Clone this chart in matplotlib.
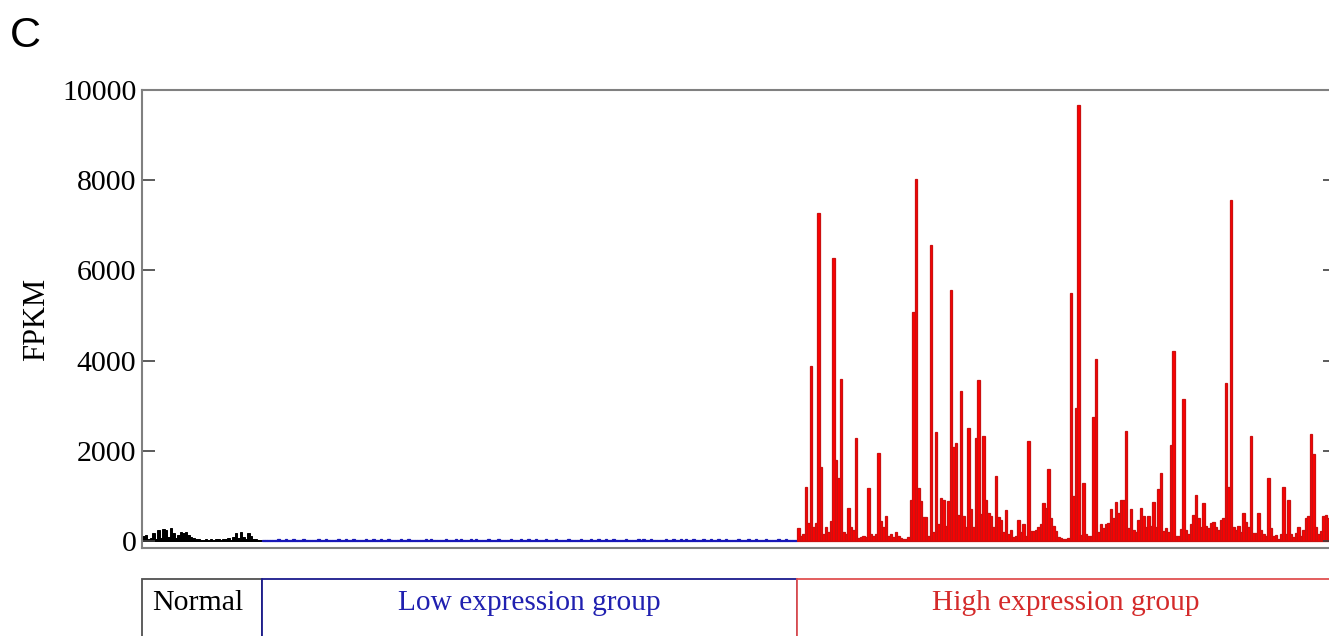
import matplotlib
matplotlib.use("Agg")
import matplotlib.pyplot as plt
from matplotlib.patches import Rectangle
import numpy as np

# FPKM per sample
normal = [120, 130, 40, 60, 170, 40, 250, 60, 260, 240, 80, 280, 170, 60, 130, 190,
          170, 200, 130, 90, 60, 50, 40, 30, 30, 35, 30, 40, 30, 50, 35, 30,
          45, 40, 60, 30, 90, 170, 60, 210, 90, 40, 170, 100, 50, 40, 30, 25]

low = [12, 25, 18, 30, 22, 15, 40, 28, 20, 35, 18, 26, 45, 22, 30, 16, 38, 24, 19, 33,
       27, 14, 36, 21, 29, 48, 17, 25, 31, 20, 42, 23, 15, 34, 26, 19, 39, 22, 28, 16,
       30, 44, 21, 18, 35, 25, 12, 38, 27, 22, 50, 19, 31, 24, 17, 36, 28, 20, 41, 26,
       18, 33, 23, 29, 15, 37, 21, 46, 25, 19, 32, 27, 14, 40, 22, 30, 18, 35, 24, 52,
       20, 28, 16, 34, 26, 43, 19, 31, 23, 17, 38, 25, 29, 21, 47, 18, 33, 27, 15, 36,
       24, 30, 19, 42, 22, 28, 35, 17, 26, 39, 21, 32, 18, 44, 25, 29, 16, 37, 23, 31,
       27, 20, 48, 24, 33, 18, 29, 41, 22, 26, 15, 36, 30, 19, 45, 23, 28, 34, 17, 25,
       38, 21, 30, 26, 14, 43, 24, 32, 19, 27, 50, 22, 35, 18, 29, 40, 25, 20, 33, 28,
       16, 37, 23, 31, 45, 19, 26, 34, 21, 42, 28, 18, 36, 24, 30, 17, 39, 25, 22, 47,
       29, 20, 35, 26, 18, 41, 23, 32, 27, 15, 38, 24, 30, 21, 44, 19, 28, 36, 22, 33,
       26, 40, 18, 31, 24, 20, 37, 29, 16, 34, 22, 27, 19, 30]

high = [290, 100, 150, 1205, 400, 3880, 300, 400, 7265, 1647,
        150, 300, 200, 450, 6282, 1800, 1400, 3585, 200, 150,
        725, 300, 250, 2290, 60, 80, 100, 80, 1180, 150,
        100, 150, 1960, 450, 300, 560, 100, 150, 80, 200,
        120, 60, 50, 50, 80, 909, 5085, 8020, 1170, 880,
        530, 530, 100, 6560, 200, 2420, 370, 950, 900, 340,
        880, 5565, 2090, 2180, 580, 3325, 560, 300, 2510, 700,
        300, 2290, 3570, 600, 2330, 910, 620, 550, 300, 1440,
        530, 470, 200, 680, 150, 250, 80, 100, 460, 200,
        370, 100, 2220, 220, 230, 250, 320, 370, 840, 740,
        1590, 500, 340, 220, 80, 60, 50, 50, 60, 5490,
        1000, 2960, 9665, 130, 1280, 150, 100, 120, 2740, 4030,
        200, 370, 290, 370, 400, 700, 500, 870, 630, 910,
        910, 2440, 290, 700, 250, 200, 470, 740, 550, 300,
        560, 340, 870, 300, 1150, 1500, 220, 290, 200, 2120,
        4210, 100, 120, 270, 3140, 250, 150, 370, 580, 1030,
        510, 300, 840, 340, 290, 400, 420, 300, 250, 470,
        510, 3510, 1200, 7570, 300, 250, 340, 200, 620, 420,
        300, 2330, 170, 170, 630, 250, 150, 120, 1390, 290,
        100, 130, 50, 150, 1190, 150, 900, 150, 80, 170,
        300, 120, 250, 510, 560, 2380, 1930, 300, 150, 220,
        550, 580, 500, 300, 200]

groups = ["Normal", "Low expression group", "High expression group"]
yticks = [0, 2000, 4000, 6000, 8000, 10000]

serif = "Liberation Serif"
W, H = 1329, 636
fig = plt.figure(figsize=(W / 100, H / 100), dpi=100)

def fx(px):
    return px / W

def fy(px):
    return 1 - px / H

ax = fig.add_axes([fx(142), fy(548), fx(1334.5) - fx(142), fy(90) - fy(548)])

n0, n1, n2 = len(normal), len(low), len(high)
x0 = np.arange(1, n0 + 1)
x1 = np.arange(n0 + 1, n0 + n1 + 1)
x2 = np.arange(n0 + n1 + 1, n0 + n1 + n2 + 1)

ax.bar(x0, normal, width=1, color="black", edgecolor="black", linewidth=0.7)
ax.bar(x1, low, width=1, color="#1010c0", edgecolor="#1818b8", linewidth=0.9)
ax.bar(x2, high, width=1, color="#ff0000", edgecolor="#cc1010", linewidth=0.9)

ax.set_xlim(0.5, n0 + n1 + n2 + 0.5)
ax.set_ylim(-155, 10000)
ax.set_xticks([])
ax.set_yticks(yticks)
ax.set_yticklabels([str(v) for v in yticks], fontname=serif, fontsize=21.5)
ax.tick_params(axis="y", direction="in", length=9, width=1.2, color="#404040",
               right=True, pad=4)
for s in ax.spines.values():
    s.set_color("#808080")
    s.set_linewidth(1.5)
ax.set_ylabel("FPKM", fontname=serif, fontsize=22)
ax.yaxis.set_label_coords(-0.076, 0.5)

# group bar underneath
gx = fig.add_axes([fx(142), fy(680), fx(1334.5) - fx(142), fy(579) - fy(680)])
gx.set_xlim(ax.get_xlim())
gx.set_ylim(0, 1)
gx.axis("off")
starts = [0.5, n0 + 0.5, n0 + n1 + 0.5]
widths = [n0, n1, n2]
edges = ["#505050", "#1a1a8c", "#e05050"]
tcols = ["black", "#2020b0", "#d42a2a"]
for g, st, w, ec, tc in zip(groups, starts, widths, edges, tcols):
    gx.add_patch(Rectangle((st, 0), w, 1, facecolor="white", edgecolor=ec,
                           linewidth=1.3, clip_on=False))
    if g == "Normal":
        gx.text(st + 4, 0.76, g, ha="left", va="center", fontname=serif,
                fontsize=21.5, color=tc)
    else:
        gx.text(st + w / 2, 0.76, g, ha="center", va="center", fontname=serif,
                fontsize=21.2, color=tc)

fig.text(fx(10), fy(36), "C", fontname="Liberation Sans", fontsize=31,
         ha="left", va="center")

fig.savefig("out.png", dpi=100)
